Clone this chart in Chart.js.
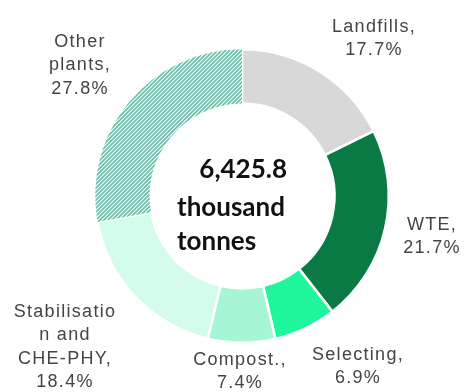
<!DOCTYPE html>
<html>
<head>
<meta charset="utf-8">
<script src="https://cdn.jsdelivr.net/npm/chart.js@4/dist/chart.umd.min.js"></script>
<style>
  html, body { margin: 0; padding: 0; background: #ffffff; }
  #wrap { width: 464px; height: 392px; }
</style>
</head>
<body>
<div id="wrap"><canvas id="waste-chart" width="464" height="392"></canvas></div>
<script>
// ---- Data ----
const categories = ['Landfills', 'WTE', 'Selecting', 'Compost.', 'Stabilisation and CHE-PHY', 'Other plants'];
const shares = [17.7, 21.7, 6.9, 7.4, 18.4, 27.8];
const totalText = ['6,425.8', 'thousand', 'tonnes'];

// how each category label wraps on the page
const labelLines = [
    ['Landfills,'],
    ['WTE,'],
    ['Selecting,'],
    ['Compost.,'],
    ['Stabilisatio', 'n and', 'CHE-PHY,'],
    ['Other', 'plants,']
];

// ---- Layout / styles ----
const labelPos = [
    { x: 374, y: 27 },
    { x: 432, y: 225 },
    { x: 358, y: 355 },
    { x: 240, y: 360 },
    { x: 65, y: 312 },
    { x: 80, y: 42 }
];
const lineGap = 23.5;

function hatchPattern() {
    const c = document.createElement('canvas');
    c.width = 4;
    c.height = 4;
    const g = c.getContext('2d');
    g.fillStyle = '#ffffff';
    g.fillRect(0, 0, 4, 4);
    g.strokeStyle = '#6cbcab';
    g.lineWidth = 1.7;
    g.beginPath();
    g.moveTo(-1, 5); g.lineTo(5, -1);
    g.moveTo(-1, 1); g.lineTo(1, -1);
    g.moveTo(3, 5); g.lineTo(5, 3);
    g.stroke();
    return g.createPattern(c, 'repeat');
}

const ctx = document.getElementById('waste-chart');

const colors = ['#d8d8d8', '#0a7a44', '#1ff59a', '#a6f6d6', '#d4fcea', hatchPattern()];

// ---- Outside labels + centre total ----
const annotate = {
    id: 'annotate',
    afterDraw(chart) {
        const c = chart.ctx;
        c.save();
        c.fillStyle = '#444444';
        c.font = '18px "Liberation Sans", Arial, sans-serif';
        c.letterSpacing = '1.3px';
        c.textAlign = 'center';
        c.textBaseline = 'middle';
        categories.forEach((cat, i) => {
            const lines = labelLines[i].concat([shares[i].toFixed(1) + '%']);
            lines.forEach((t, k) => {
                c.fillText(t, labelPos[i].x, labelPos[i].y + k * lineGap);
            });
        });

        c.letterSpacing = '0px';
        c.fillStyle = '#111111';
        c.font = 'bold 26px Lato, sans-serif';
        c.textBaseline = 'alphabetic';
        c.textAlign = 'right';
        c.fillText(totalText[0], 287, 178);
        c.textAlign = 'left';
        c.fillText(totalText[1], 177, 216);
        c.fillText(totalText[2], 177, 250);
        c.restore();
    }
};

new Chart(ctx, {
    type: 'doughnut',
    data: {
        labels: categories,
        datasets: [{
            data: shares,
            backgroundColor: colors,
            borderColor: '#ffffff',
            borderWidth: [2.5, 2.5, 2.5, 2.5, 2.5, 0],
            hoverOffset: 0
        }]
    },
    options: {
        responsive: false,
        animation: false,
        cutout: '63%',
        layout: {
            padding: { top: 48, bottom: 48, left: 94, right: 74 }
        },
        plugins: {
            legend: { display: false },
            tooltip: { enabled: false }
        }
    },
    plugins: [annotate]
});
</script>
</body>
</html>
